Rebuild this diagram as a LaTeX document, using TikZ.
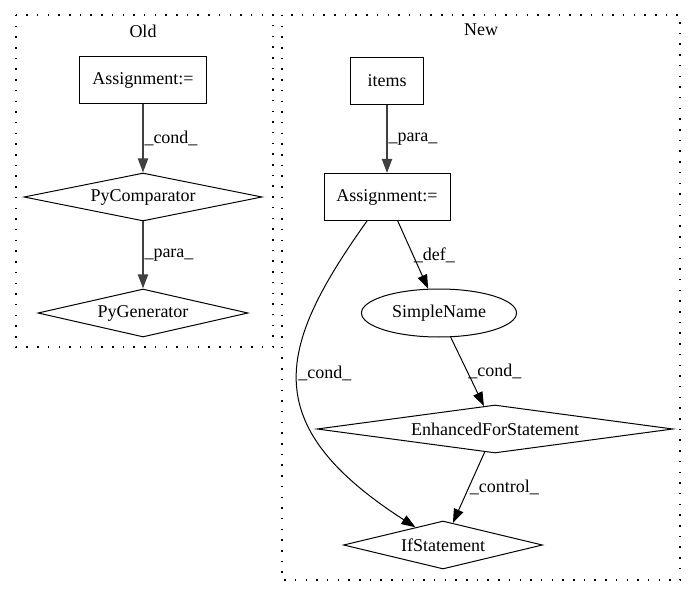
\documentclass[tikz,border=0pt]{standalone}
\usepackage{fontspec}
\setmainfont{Liberation Serif}
\usetikzlibrary{shapes.geometric,arrows.meta}

\begin{document}
\begin{tikzpicture}[x=1pt, y=-1pt,
    font=\fontsize{18}{21}\selectfont,
    stmt/.style={draw, line width=1pt, rectangle, minimum width=#1, minimum height=47pt, inner sep=0pt},
    cnd/.style={draw, line width=1pt, diamond, aspect=6, minimum width=#1, minimum height=48pt, inner sep=0pt},
    var/.style={draw, line width=1pt, ellipse, minimum width=155pt, minimum height=48pt, inner sep=0pt},
    flow/.style={-{Triangle[length=14pt, width=10pt]}, line width=1pt},
    heavy/.style={flow, line width=2pt, draw=black!75},
    lbl/.style={right, inner sep=0.5pt},
    cluster/.style={line width=1.2pt, dash pattern=on 1.5pt off 9.2pt}]
    \useasboundingbox (0,0) rectangle (696,596);

    % Old
    \draw[cluster] (16,15) rectangle (273,347);
    \node (oldtitle) at (143,31) {Old};
    \node[stmt=127pt] (asgn1) at (143,80) {Assignment:=};
    \node[cnd=238pt] (pycmp) at (143,197) {PyComparator};
    \node[cnd=210pt] (pygen) at (143,313) {PyGenerator};
    \draw[heavy] (asgn1) -- node[lbl] {\_cond\_} (pycmp);
    \draw[heavy] (pycmp) -- node[lbl] {\_para\_} (pygen);

    % New
    \draw[cluster] (282,15) rectangle (680,580);
    \node (newtitle) at (481,30) {New};
    \node[stmt=73pt] (items) at (387,81) {items};
    \node[stmt=126pt] (asgn2) at (387,197) {Assignment:=};
    \node[var] (sname) at (439,313) {SimpleName};
    \node[cnd=356pt] (efs) at (495,429) {EnhancedForStatement};
    \node[cnd=199pt] (ifst) at (443,545) {IfStatement};
    \draw[heavy] (items) -- node[lbl] {\_para\_} (asgn2);
    \draw[flow] (asgn2) -- node[lbl] {\_def\_} (sname);
    \draw[flow] ([xshift=-20pt]asgn2.south) .. controls (278,346) and (255,424) .. node[lbl, pos=0.47] {\_cond\_} (ifst);
    \draw[flow] (sname) -- node[lbl] {\_cond\_} (efs);
    \draw[flow] (efs) -- node[lbl] {\_control\_} (ifst);
\end{tikzpicture}
\end{document}
